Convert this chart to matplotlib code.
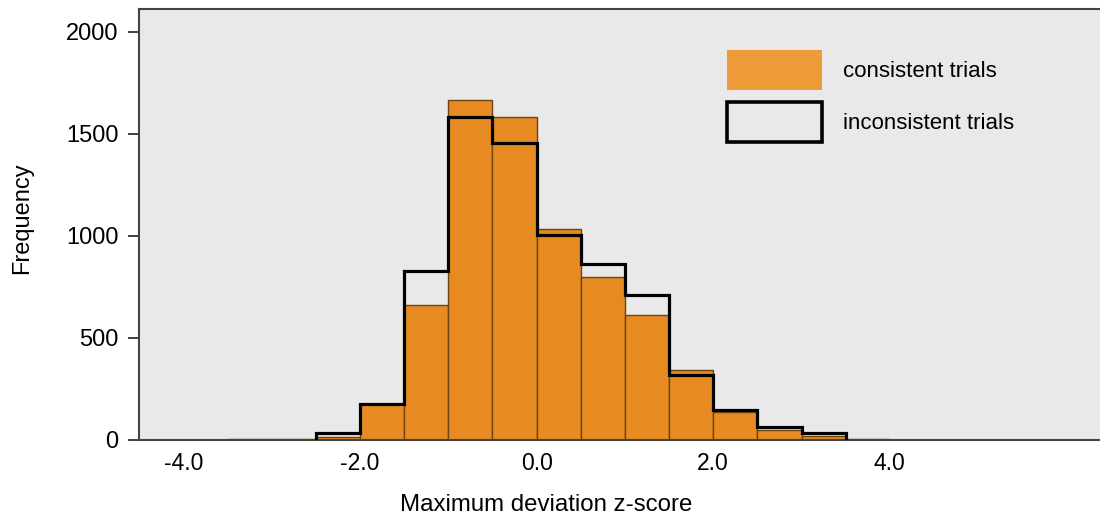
import matplotlib
matplotlib.use("Agg")
import matplotlib.pyplot as plt
from matplotlib.patches import Patch
import numpy as np

plt.rcParams['font.family'] = ['Liberation Sans', 'DejaVu Sans']

# Bin edges (z-score), width 0.5
cons_edges = [-3.5, -3.0, -2.5, -2.0, -1.5, -1.0, -0.5, 0.0, 0.5, 1.0,
              1.5, 2.0, 2.5, 3.0, 3.5, 4.0, 4.5, 5.0]
consistent = [3, 4, 15, 176, 661, 1666, 1584, 1035, 797, 612,
              343, 139, 49, 20, 4, 2, 2]
incons_edges = [-2.5, -2.0, -1.5, -1.0, -0.5, 0.0, 0.5, 1.0,
                1.5, 2.0, 2.5, 3.0, 3.5]
inconsistent = [32, 176, 829, 1581, 1454, 1006, 862, 710,
                317, 147, 66, 34]
xtick_vals = [-4.0, -2.0, 0.0, 2.0, 4.0]
ytick_vals = [0, 500, 1000, 1500, 2000]
legend_labels = ["consistent trials", "inconsistent trials"]

fig = plt.figure(figsize=(11, 5.16), dpi=100)
W, H = 1100, 516
ax_left, ax_right, ax_top, ax_bottom = 139.3, 1100, 9.3, 440
ax_w, ax_h = ax_right - ax_left, ax_bottom - ax_top
ax = fig.add_axes([ax_left / W, (H - ax_bottom) / H, ax_w / W, ax_h / H])
ax.set_facecolor('#e9e9e9')

edges = np.array(cons_edges)
ax.bar(edges[:-1], consistent, width=np.diff(edges), align='edge',
       color='#e88a22', edgecolor='#6a4512', linewidth=1.0, zorder=2)
ax.stairs(inconsistent, incons_edges, color='black', linewidth=2.3, zorder=3)

ax.set_xlim(-4.5, 6.38)
ax.set_ylim(0, 2109)
ax.set_xticks(xtick_vals)
ax.set_xticklabels([f"{v:.1f}" for v in xtick_vals])
ax.set_yticks(ytick_vals)
ax.tick_params(axis='x', length=0, pad=9, labelsize=16.5)
ax.tick_params(axis='y', length=8, width=1.3, color='#333333', pad=7, labelsize=17)

for s in ['left', 'top', 'bottom']:
    ax.spines[s].set_color('#444444')
    ax.spines[s].set_linewidth(1.5)
ax.spines['right'].set_visible(False)

ax.set_xlabel("Maximum deviation z-score", fontsize=17.3)
ax.xaxis.set_label_coords((546 - ax_left) / ax_w, (ax_bottom - 494) / ax_h)
ax.set_ylabel("Frequency", fontsize=17)
ax.yaxis.set_label_coords((33 - ax_left) / ax_w, (ax_bottom - 218) / ax_h)

handles = [Patch(facecolor='#f09b3a', edgecolor='none'),
           Patch(facecolor='none', edgecolor='black', linewidth=2.6)]
fs = 16
fs_px = fs * 100 / 72
hh = (40 / fs_px - 0.245) / 0.65
ax.legend(handles, legend_labels, loc='upper left',
          bbox_to_anchor=((727 - ax_left) / ax_w, (ax_bottom - 50) / ax_h),
          frameon=False, fontsize=fs, borderpad=0, borderaxespad=0,
          handlelength=95 / fs_px, handleheight=hh,
          handletextpad=0.95, labelspacing=0.54)

fig.savefig("out.png", dpi=100, facecolor='white')
